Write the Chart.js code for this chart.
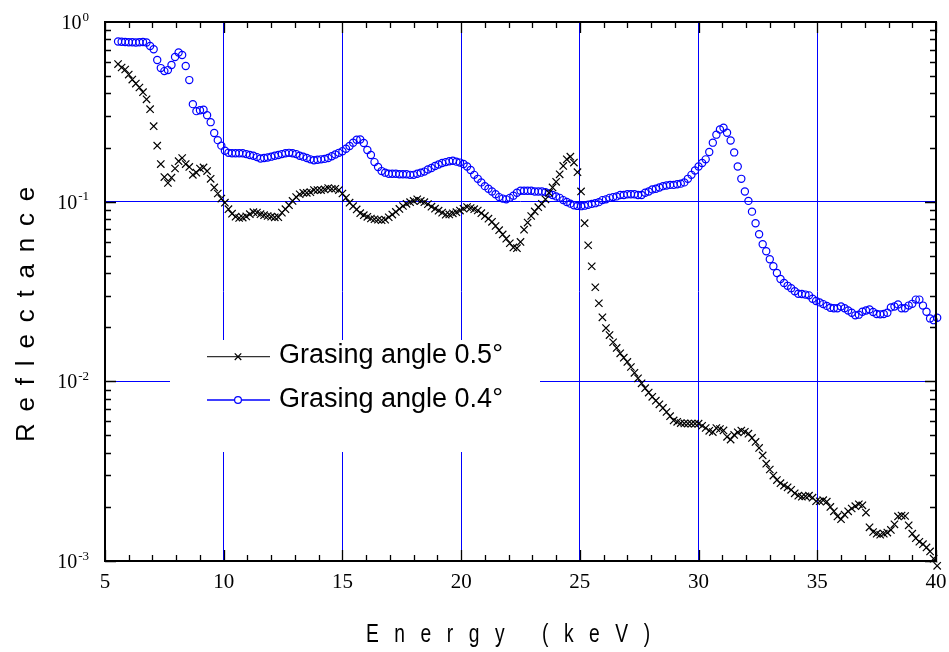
<!DOCTYPE html>
<html><head><meta charset="utf-8">
<script src="https://cdn.jsdelivr.net/npm/chart.js@4.4.1/dist/chart.umd.min.js"></script>
<style>html,body{margin:0;padding:0;background:#fff}canvas{display:block}</style>
</head><body>
<canvas id="c" width="949" height="652"></canvas>
<script>
// ---- data ----
const energies = [
5.55,5.70,5.85,6.00,6.15,6.30,6.45,6.60,6.75,6.90,
7.05,7.20,7.35,7.50,7.65,7.80,7.95,8.10,8.25,8.40,
8.55,8.70,8.85,9.00,9.15,9.30,9.45,9.60,9.75,9.90,
10.05,10.20,10.35,10.50,10.65,10.80,10.95,11.10,11.25,11.40,
11.55,11.70,11.85,12.00,12.15,12.30,12.45,12.60,12.75,12.90,
13.05,13.20,13.35,13.50,13.65,13.80,13.95,14.10,14.25,14.40,
14.55,14.70,14.85,15.00,15.15,15.30,15.45,15.60,15.75,15.90,
16.05,16.20,16.35,16.50,16.65,16.80,16.95,17.10,17.25,17.40,
17.55,17.70,17.85,18.00,18.15,18.30,18.45,18.60,18.75,18.90,
19.05,19.20,19.35,19.50,19.65,19.80,19.95,20.10,20.25,20.40,
20.55,20.70,20.85,21.00,21.15,21.30,21.45,21.60,21.75,21.90,
22.05,22.20,22.35,22.50,22.65,22.80,22.95,23.10,23.25,23.40,
23.55,23.70,23.85,24.00,24.15,24.30,24.45,24.60,24.75,24.90,
25.05,25.20,25.35,25.50,25.65,25.80,25.95,26.10,26.25,26.40,
26.55,26.70,26.85,27.00,27.15,27.30,27.45,27.60,27.75,27.90,
28.05,28.20,28.35,28.50,28.65,28.80,28.95,29.10,29.25,29.40,
29.55,29.70,29.85,30.00,30.15,30.30,30.45,30.60,30.75,30.90,
31.05,31.20,31.35,31.50,31.65,31.80,31.95,32.10,32.25,32.40,
32.55,32.70,32.85,33.00,33.15,33.30,33.45,33.60,33.75,33.90,
34.05,34.20,34.35,34.50,34.65,34.80,34.95,35.10,35.25,35.40,
35.55,35.70,35.85,36.00,36.15,36.30,36.45,36.60,36.75,36.90,
37.05,37.20,37.35,37.50,37.65,37.80,37.95,38.10,38.25,38.40,
38.55,38.70,38.85,39.00,39.15,39.30,39.45,39.60,39.75,39.90,
40.05];

// Grasing angle 0.5 deg (black crosses)
const reflect05 = [
0.583,0.558,0.544,0.510,0.478,0.454,0.432,0.407,0.371,0.327,
0.263,0.205,0.162,0.137,0.127,0.136,0.153,0.168,0.175,0.162,
0.156,0.141,0.145,0.153,0.155,0.148,0.134,0.120,0.111,0.104,
0.0987,0.0908,0.0857,0.0825,0.0811,0.0816,0.0828,0.0852,0.0874,0.0869,
0.0852,0.0841,0.0832,0.0825,0.0818,0.0820,0.0869,0.0908,0.0956,0.101,
0.106,0.110,0.112,0.112,0.113,0.116,0.116,0.116,0.117,0.119,
0.118,0.118,0.116,0.111,0.105,0.0987,0.0944,0.0905,0.0863,0.0841,
0.0823,0.0806,0.0798,0.0793,0.0788,0.0794,0.0819,0.0848,0.0877,0.0911,
0.0946,0.0973,0.0994,0.101,0.103,0.101,0.0994,0.0969,0.0938,0.0914,
0.0891,0.0869,0.0847,0.0849,0.0861,0.0874,0.0892,0.0913,0.0934,0.0922,
0.0908,0.0893,0.0863,0.0833,0.0804,0.0772,0.0732,0.0694,0.0657,0.0622,
0.0587,0.0556,0.0551,0.0597,0.0698,0.0765,0.0832,0.0882,0.0932,0.0973,
0.103,0.112,0.120,0.129,0.142,0.158,0.172,0.178,0.165,0.146,
0.114,0.0759,0.0572,0.0437,0.0334,0.0272,0.0227,0.0198,0.0181,0.0165,
0.01535,0.01432,0.01355,0.01282,0.01202,0.01115,0.01039,0.00975,0.00916,0.00866,
0.00820,0.00780,0.00745,0.00711,0.00675,0.00640,0.00606,0.00595,0.00586,0.00583,
0.00582,0.00581,0.00581,0.00581,0.00566,0.00550,0.00530,0.00522,0.00549,0.00543,
0.00533,0.00491,0.00474,0.00503,0.00520,0.00532,0.00524,0.00511,0.00484,0.00460,
0.00426,0.00387,0.00348,0.00323,0.00299,0.00282,0.00271,0.00263,0.00257,0.00249,
0.00238,0.00231,0.00228,0.00229,0.00231,0.00225,0.00215,0.00215,0.00218,0.00214,
0.00200,0.00189,0.00177,0.00171,0.00181,0.00189,0.00196,0.00202,0.00207,0.00204,
0.00186,0.00154,0.00145,0.00142,0.00140,0.00142,0.00144,0.00149,0.00160,0.00177,
0.00179,0.00178,0.00158,0.00142,0.00134,0.00128,0.00124,0.00119,0.00113,0.00103,
0.00094];

// Grasing angle 0.4 deg (blue circles)
const reflect04 = [
0.779,0.777,0.774,0.772,0.771,0.769,0.771,0.774,0.769,0.735,
0.705,0.614,0.554,0.533,0.540,0.576,0.638,0.676,0.655,0.569,
0.475,0.349,0.319,0.323,0.325,0.303,0.277,0.241,0.220,0.205,
0.192,0.187,0.186,0.186,0.186,0.186,0.184,0.182,0.180,0.177,
0.174,0.175,0.176,0.178,0.180,0.182,0.184,0.186,0.187,0.186,
0.184,0.180,0.178,0.175,0.172,0.170,0.171,0.172,0.173,0.175,
0.179,0.183,0.187,0.191,0.197,0.204,0.213,0.221,0.222,0.212,
0.194,0.182,0.166,0.156,0.148,0.145,0.143,0.143,0.143,0.142,
0.142,0.142,0.141,0.141,0.143,0.145,0.147,0.151,0.154,0.158,
0.161,0.164,0.166,0.168,0.169,0.167,0.165,0.162,0.157,0.150,
0.141,0.134,0.128,0.122,0.118,0.114,0.110,0.106,0.104,0.103,
0.105,0.108,0.112,0.115,0.115,0.115,0.115,0.114,0.114,0.114,
0.113,0.111,0.109,0.107,0.105,0.102,0.0996,0.0975,0.0956,0.0947,
0.0944,0.0950,0.0962,0.0972,0.0981,0.0994,0.102,0.103,0.105,0.106,
0.107,0.109,0.109,0.110,0.110,0.110,0.109,0.109,0.112,0.114,
0.117,0.118,0.120,0.122,0.123,0.124,0.124,0.125,0.126,0.128,
0.134,0.141,0.149,0.157,0.164,0.172,0.189,0.213,0.236,0.252,
0.258,0.242,0.219,0.188,0.157,0.134,0.114,0.101,0.0880,0.0759,
0.0659,0.0580,0.0530,0.0478,0.0437,0.0401,0.0371,0.0353,0.0340,0.0330,
0.0317,0.0307,0.0306,0.0304,0.0301,0.0288,0.0280,0.0275,0.0269,0.0263,
0.0257,0.0255,0.0255,0.0261,0.0255,0.0248,0.0241,0.0233,0.0235,0.0244,
0.0248,0.0251,0.0243,0.0237,0.0236,0.0237,0.0241,0.0258,0.0261,0.0268,
0.0255,0.0255,0.0264,0.0270,0.0285,0.0285,0.0264,0.0244,0.0224,0.0219,
0.0226];

const seriesLabels = ['Grasing angle 0.5°', 'Grasing angle 0.4°'];
const xTickValues = [5, 10, 15, 20, 25, 30, 35, 40];
const yDecades = [1, 0.1, 0.01, 0.001];
const yDecadeExponents = ['0', '-1', '-2', '-3'];
const xTitleParts = ['Energy', '(keV)'];
const yTitle = 'Reflectance';

// ---- drawing helpers ----
const SERIF = '"Liberation Serif", "Times New Roman", serif';
const SANS = '"Liberation Sans", Arial, sans-serif';

const framePlugin = {
  id: 'frame',
  beforeDatasetsDraw(chart) {
    const ctx = chart.ctx;
    ctx.save();
    // legend box (white, hides the grid behind it)
    ctx.fillStyle = '#fff';
    ctx.fillRect(170, 340, 370, 112);
    const rowsY = [356.7, 400];
    chart.data.datasets.forEach((ds, i) => {
      const y = rowsY[i];
      ctx.strokeStyle = ds.legendLineColor;
      ctx.lineWidth = 1.3;
      ctx.beginPath(); ctx.moveTo(207, y); ctx.lineTo(270, y); ctx.stroke();
      ctx.strokeStyle = ds.borderColor;
      ctx.fillStyle = '#fff';
      ctx.lineWidth = ds.pointBorderWidth;
      Chart.helpers.drawPoint(ctx, {pointStyle: ds.pointStyle, radius: ds.legendRadius, rotation: 0, borderWidth: ds.pointBorderWidth}, 238, y);
      ctx.fillStyle = '#000';
      ctx.font = '27px ' + SANS;
      ctx.textAlign = 'left';
      ctx.textBaseline = 'alphabetic';
      ctx.fillText(ds.label, 279, y + 6.7);
    });
    ctx.restore();
  },
  afterDraw(chart) {
    const ctx = chart.ctx;
    const a = chart.chartArea;
    const xs = chart.scales.x, ys = chart.scales.y;
    ctx.save();
    ctx.strokeStyle = '#000';
    // ticks (inward)
    ctx.lineWidth = 1.3;
    ctx.beginPath();
    for (let v = 5; v <= 40; v++) {
      const px = Math.round(xs.getPixelForValue(v)) + 0.5;
      const len = (v % 5 === 0) ? 11 : 6;
      ctx.moveTo(px, a.bottom); ctx.lineTo(px, a.bottom - len);
      ctx.moveTo(px, a.top); ctx.lineTo(px, a.top + len);
    }
    for (let d = -3; d < 0; d++) {
      for (let k = 1; k <= 9; k++) {
        const val = k * Math.pow(10, d);
        const py = Math.round(ys.getPixelForValue(val)) + 0.5;
        const len = k === 1 ? 11 : 6;
        ctx.moveTo(a.left, py); ctx.lineTo(a.left + len, py);
        ctx.moveTo(a.right, py); ctx.lineTo(a.right - len, py);
      }
    }
    ctx.stroke();
    // frame
    ctx.lineWidth = 2;
    ctx.strokeRect(a.left, a.top, a.right - a.left, a.bottom - a.top);
    // y tick labels 10^n
    ctx.fillStyle = '#000';
    ctx.textAlign = 'left';
    ctx.textBaseline = 'alphabetic';
    yDecades.forEach((v, i) => {
      const py = ys.getPixelForValue(v);
      const ex = yDecadeExponents[i];
      ctx.font = '13px ' + SERIF;
      const ew = ctx.measureText(ex).width;
      ctx.font = '20px ' + SERIF;
      const bw = ctx.measureText('10').width;
      const x0 = 89 - ew - bw - 1;
      ctx.fillText('10', x0, py + 7);
      ctx.font = '13px ' + SERIF;
      ctx.fillText(ex, x0 + bw + 1, py - 1.5);
    });
    // x title
    ctx.font = '26px ' + SANS;
    ctx.letterSpacing = '21px';
    [[xTitleParts[0], 366], [xTitleParts[1], 542]].forEach(([t, x]) => {
      ctx.save();
      ctx.translate(x, 642);
      ctx.scale(0.74, 1);
      ctx.fillText(t, 0, 0);
      ctx.restore();
    });
    // y title
    ctx.font = '26px ' + SANS;
    ctx.letterSpacing = '11.8px';
    ctx.save();
    ctx.translate(34, 442);
    ctx.rotate(-Math.PI / 2);
    ctx.fillText(yTitle, 0, 0);
    ctx.restore();
    ctx.restore();
  }
};

const toPoints = (vals) => energies.map((e, i) => ({x: e, y: vals[i]}));

new Chart(document.getElementById('c'), {
  type: 'scatter',
  data: {
    datasets: [
      {
        label: seriesLabels[0],
        data: toPoints(reflect05),
        pointStyle: 'crossRot',
        pointRadius: 5.2,
        legendRadius: 4.6,
        pointBorderWidth: 1.2,
        borderColor: '#000',
        backgroundColor: '#000',
        legendLineColor: '#333',
        showLine: false,
        clip: false
      },
      {
        label: seriesLabels[1],
        data: toPoints(reflect04),
        pointStyle: 'circle',
        pointRadius: 3.6,
        legendRadius: 3.4,
        pointBorderWidth: 1.2,
        borderColor: '#0000ff',
        backgroundColor: 'rgba(255,255,255,0)',
        legendLineColor: '#0000ff',
        showLine: false,
        clip: false
      }
    ]
  },
  options: {
    responsive: false,
    animation: false,
    devicePixelRatio: 1,
    events: [],
    layout: {padding: {top: 22, right: 13, left: 0, bottom: 0}},
    plugins: {legend: {display: false}, tooltip: {enabled: false}},
    scales: {
      x: {
        type: 'linear', min: 5, max: 40,
        afterBuildTicks: s => { s.ticks = xTickValues.map(v => ({value: v})); },
        afterFit: s => { s.height = 91; s.paddingLeft = 0; s.paddingRight = 0; },
        grid: {
          drawTicks: false, lineWidth: 1,
          color: c => (c.tick && c.tick.value > 5 && c.tick.value < 40) ? '#0000ff' : 'rgba(0,0,0,0)'
        },
        border: {display: false},
        ticks: {
          font: {family: SERIF, size: 21}, color: '#000', padding: 9,
          maxRotation: 0, autoSkip: false, callback: v => String(v)
        }
      },
      y: {
        type: 'logarithmic', min: 0.001, max: 1,
        afterBuildTicks: s => { s.ticks = yDecades.map(v => ({value: v})); },
        afterFit: s => { s.width = 105; s.paddingTop = 0; s.paddingBottom = 0; },
        grid: {
          drawTicks: false, lineWidth: 1,
          color: c => (c.tick && c.tick.value < 0.5 && c.tick.value > 0.002) ? '#0000ff' : 'rgba(0,0,0,0)'
        },
        border: {display: false},
        ticks: {display: false}
      }
    }
  },
  plugins: [framePlugin]
});
</script>
</body></html>
